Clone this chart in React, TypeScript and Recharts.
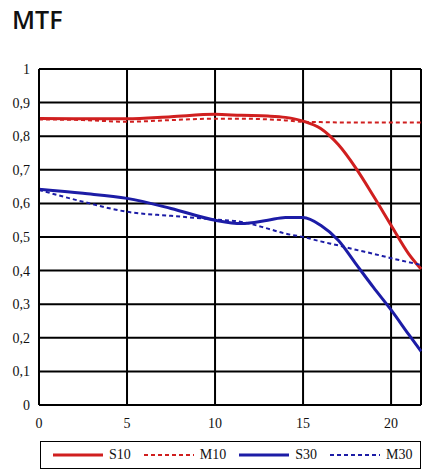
import { CartesianGrid, Line, LineChart, ReferenceLine, XAxis, YAxis } from 'recharts';

const xValues = [0, 2.5, 5, 7.5, 10, 11.5, 13, 14, 15, 16, 17, 18, 19, 20, 21, 21.7];
const s10 = [0.853, 0.852, 0.852, 0.858, 0.865, 0.862, 0.86, 0.856, 0.845, 0.823, 0.775, 0.705, 0.622, 0.535, 0.45, 0.405];
const m10 = [0.85, 0.848, 0.843, 0.848, 0.852, 0.852, 0.85, 0.847, 0.843, 0.842, 0.841, 0.841, 0.841, 0.841, 0.841, 0.841];
const s30 = [0.642, 0.63, 0.615, 0.585, 0.55, 0.54, 0.55, 0.558, 0.558, 0.535, 0.49, 0.42, 0.35, 0.283, 0.21, 0.16];
const m30 = [0.64, 0.605, 0.575, 0.563, 0.552, 0.545, 0.525, 0.51, 0.5, 0.487, 0.475, 0.462, 0.45, 0.437, 0.425, 0.417];

const xTicks = [0, 5, 10, 15, 20];
const yTicks = [0, 0.1, 0.2, 0.3, 0.4, 0.5, 0.6, 0.7, 0.8, 0.9, 1];

const RED = '#d01f1f';
const BLUE = '#1c1ca6';
const SERIF = '"Liberation Serif", "Times New Roman", "DejaVu Serif", serif';

const series = [
  { key: 's10', label: 'S10', color: RED, dashed: false },
  { key: 'm10', label: 'M10', color: RED, dashed: true },
  { key: 's30', label: 'S30', color: BLUE, dashed: false },
  { key: 'm30', label: 'M30', color: BLUE, dashed: true },
];

const data = xValues.map((x, i) => ({ x, s10: s10[i], m10: m10[i], s30: s30[i], m30: m30[i] }));

const tickStyle = { fill: '#111', fontSize: 14, fontFamily: SERIF };

export default function App() {
  return (
    <div style={{ position: 'absolute', left: 0, top: 0, width: 436, height: 475, background: '#fff' }}>
      <div
        style={{
          position: 'absolute',
          left: 12,
          top: 2,
          fontFamily: '"Open Sans", sans-serif',
          fontSize: 25,
          fontWeight: 600,
          color: '#111',
        }}
      >
        MTF
      </div>
      <LineChart
        width={436}
        height={475}
        data={data}
        margin={{ top: 69, right: 15, bottom: 40, left: 0 }}
        style={{ fontFamily: SERIF }}
      >
        <CartesianGrid stroke="#000" strokeWidth={2} vertical horizontal />
        <XAxis
          dataKey="x"
          type="number"
          domain={[0, 21.7]}
          ticks={xTicks}
          tick={tickStyle}
          tickLine={false}
          tickSize={0}
          tickMargin={13}
          height={30}
          axisLine={{ stroke: '#000', strokeWidth: 2 }}
        />
        <YAxis
          type="number"
          domain={[0, 1]}
          ticks={yTicks}
          tick={tickStyle}
          tickFormatter={(v) => String(v).replace('.', ',')}
          tickLine={false}
          tickSize={0}
          tickMargin={9}
          width={39}
          axisLine={{ stroke: '#000', strokeWidth: 2 }}
        />
        <ReferenceLine x={21.7} stroke="#000" strokeWidth={2} />
        <ReferenceLine y={1} stroke="#000" strokeWidth={2} />
        {series.map((s) => (
          <Line
            key={s.key}
            type="monotone"
            dataKey={s.key}
            stroke={s.color}
            strokeWidth={s.dashed ? 2 : 3}
            strokeDasharray={s.dashed ? '4 3' : undefined}
            dot={false}
            isAnimationActive={false}
          />
        ))}
      </LineChart>
      <div
        style={{
          position: 'absolute',
          left: 40,
          top: 441,
          width: 379,
          height: 26,
          border: '1.5px solid #000',
          display: 'flex',
          alignItems: 'center',
          fontFamily: SERIF,
          fontSize: 14,
          color: '#111',
        }}
      >
        {series.map((s, i) => (
          <div key={s.key} style={{ display: 'flex', alignItems: 'center', marginLeft: i === 0 ? 12 : 13 }}>
            <svg width={50} height={6}>
              <line
                x1={0}
                y1={3}
                x2={50}
                y2={3}
                stroke={s.color}
                strokeWidth={s.dashed ? 2 : 3}
                strokeDasharray={s.dashed ? '4 3' : undefined}
              />
            </svg>
            <span style={{ marginLeft: 6 }}>{s.label}</span>
          </div>
        ))}
      </div>
    </div>
  );
}
